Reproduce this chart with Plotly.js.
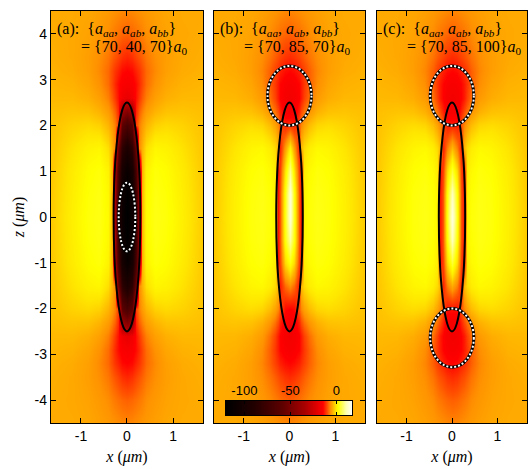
<!DOCTYPE html>
<html>
<head>
<meta charset="utf-8">
<script src="https://cdn.plot.ly/plotly-3.0.1.min.js"></script>
<style>html,body{margin:0;padding:0;background:#fff;}#plot{width:529px;height:469px;}</style>
</head>
<body>
<div id="plot"></div>
<script>
// x >= 0 half of the grid (field is mirror-symmetric in x)
const xHalf = [0, 0.1, 0.2, 0.26, 0.32, 0.42, 0.6, 0.85, 1.2, 1.65];
// z rows, top to bottom
const zRows = [4.5, 4.0, 3.5, 3.2, 2.9, 2.6, 2.3, 2.0, 1.5, 1.0, 0.5, 0.0,
               -0.5, -1.0, -1.5, -2.0, -2.3, -2.6, -2.9, -3.2, -3.5, -4.0, -4.5];

const fieldA = [
  [-7.6, -7.4, -7.1, -6.9, -6.7, -6.3, -5.8, -5.3, -5.0, -5.0],
  [-9.4, -9.1, -8.6, -8.2, -7.8, -7.1, -6.3, -5.6, -5.1, -4.9],
  [-12.8, -12.2, -11.0, -10.2, -9.4, -8.3, -7.0, -5.9, -5.1, -4.7],
  [-15.0, -14.5, -13.0, -12.0, -10.7, -9.0, -7.3, -5.8, -4.9, -4.5],
  [-16.5, -16.0, -14.3, -12.7, -10.9, -8.8, -6.8, -5.3, -4.5, -4.2],
  [-20.0, -18.0, -14.0, -11.8, -9.8, -7.8, -5.8, -4.6, -4.0, -4.0],
  [-48, -40, -12.5, -9.5, -7.8, -6.0, -4.3, -3.3, -3.2, -3.6],
  [-70, -60, -11.0, -8.0, -6.2, -4.3, -2.4, -1.8, -2.3, -3.4],
  [-95, -84, -50, -7.5, -4.5, -1.5, 0.6, 0.2, -1.2, -3.2],
  [-112, -100, -68, -32, -4.5, 0.3, 1.9, 1.3, -0.5, -3.0],
  [-119, -108, -74, -35, -4.2, 0.8, 2.3, 1.7, -0.2, -2.9],
  [-120, -110, -76, -36, -4.0, 1.0, 2.4, 1.9, 0.0, -2.8],
  [-119, -108, -74, -35, -4.2, 0.8, 2.3, 1.7, -0.2, -2.9],
  [-112, -100, -68, -32, -4.5, 0.3, 1.9, 1.3, -0.5, -3.0],
  [-95, -84, -50, -7.5, -4.5, -1.5, 0.6, 0.2, -1.2, -3.2],
  [-70, -60, -11.0, -8.0, -6.2, -4.3, -2.4, -1.8, -2.3, -3.4],
  [-48, -40, -12.5, -9.5, -7.8, -6.0, -4.3, -3.3, -3.2, -3.6],
  [-20.0, -18.0, -14.0, -11.8, -9.8, -7.8, -5.8, -4.6, -4.0, -4.0],
  [-16.5, -16.0, -14.3, -12.7, -10.9, -8.8, -6.8, -5.3, -4.5, -4.2],
  [-15.0, -14.5, -13.0, -12.0, -10.7, -9.0, -7.3, -5.8, -4.9, -4.5],
  [-12.8, -12.2, -11.0, -10.2, -9.4, -8.3, -7.0, -5.9, -5.1, -4.7],
  [-9.4, -9.1, -8.6, -8.2, -7.8, -7.1, -6.3, -5.6, -5.1, -4.9],
  [-7.6, -7.4, -7.1, -6.9, -6.7, -6.3, -5.8, -5.3, -5.0, -5.0]
];

const fieldB = [
  [-7.6, -7.4, -7.1, -6.9, -6.7, -6.3, -5.8, -5.3, -5.0, -5.0],
  [-9.5, -9.2, -8.7, -8.3, -7.9, -7.2, -6.4, -5.6, -5.1, -4.9],
  [-12.5, -12.0, -11.0, -10.4, -9.6, -8.5, -7.1, -5.9, -5.1, -4.7],
  [-14.8, -14.3, -13.2, -12.3, -11.2, -9.5, -7.5, -5.9, -4.9, -4.5],
  [-16.5, -16.0, -14.8, -13.5, -11.8, -9.6, -7.1, -5.4, -4.5, -4.2],
  [-17.5, -17.0, -15.0, -13.5, -11.2, -8.8, -6.2, -4.8, -4.1, -4.0],
  [-17.0, -16.5, -13.0, -10.5, -8.5, -6.5, -4.5, -3.4, -3.2, -3.6],
  [-12.0, -13.0, -10.0, -7.5, -5.6, -3.8, -2.1, -1.6, -2.2, -3.4],
  [0.0, -6.0, -13.0, -4.0, -1.8, -0.3, 0.9, 0.5, -1.0, -3.2],
  [8.0, -1.0, -11.0, -14.0, -0.3, 1.0, 2.0, 1.5, -0.3, -3.0],
  [13.0, 2.0, -10.0, -14.0, 0.3, 1.6, 2.4, 1.9, 0.0, -2.9],
  [13.0, 2.5, -10.0, -14.0, 0.5, 1.8, 2.5, 2.0, 0.1, -2.8],
  [9.0, 2.0, -10.0, -14.0, 0.3, 1.6, 2.4, 1.9, 0.0, -2.9],
  [2.0, -2.0, -11.0, -14.0, -0.3, 1.0, 2.0, 1.5, -0.3, -3.0],
  [-7.0, -9.0, -13.5, -4.0, -1.8, -0.3, 0.9, 0.5, -1.0, -3.2],
  [-15.0, -14.5, -10.0, -7.5, -5.6, -3.8, -2.1, -1.6, -2.2, -3.4],
  [-17.5, -16.5, -13.0, -10.5, -8.5, -6.5, -4.5, -3.4, -3.2, -3.6],
  [-17.5, -17.0, -15.0, -13.5, -11.2, -8.8, -6.2, -4.8, -4.1, -4.0],
  [-16.5, -16.0, -14.8, -13.5, -11.8, -9.6, -7.1, -5.4, -4.5, -4.2],
  [-14.8, -14.3, -13.2, -12.3, -11.2, -9.5, -7.5, -5.9, -4.9, -4.5],
  [-12.5, -12.0, -11.0, -10.4, -9.6, -8.5, -7.1, -5.9, -5.1, -4.7],
  [-9.5, -9.2, -8.7, -8.3, -7.9, -7.2, -6.4, -5.6, -5.1, -4.9],
  [-7.6, -7.4, -7.1, -6.9, -6.7, -6.3, -5.8, -5.3, -5.0, -5.0]
];

const fieldC = [
  [-7.6, -7.4, -7.1, -6.9, -6.7, -6.3, -5.8, -5.3, -5.0, -5.0],
  [-9.5, -9.2, -8.7, -8.3, -7.9, -7.2, -6.4, -5.6, -5.1, -4.9],
  [-12.5, -12.0, -11.0, -10.4, -9.6, -8.5, -7.1, -5.9, -5.1, -4.7],
  [-14.8, -14.3, -13.2, -12.3, -11.2, -9.5, -7.5, -5.9, -4.9, -4.5],
  [-16.5, -16.0, -14.8, -13.5, -11.8, -9.6, -7.1, -5.4, -4.5, -4.2],
  [-17.5, -17.0, -15.0, -13.5, -11.2, -8.8, -6.2, -4.8, -4.1, -4.0],
  [-17.0, -16.5, -13.0, -10.5, -8.5, -6.5, -4.5, -3.4, -3.2, -3.6],
  [-13.0, -13.5, -10.0, -7.5, -5.6, -3.8, -2.1, -1.6, -2.2, -3.4],
  [-4.0, -8.0, -13.0, -4.0, -1.8, -0.3, 0.9, 0.5, -1.0, -3.2],
  [4.0, -2.0, -11.0, -14.0, -0.3, 1.0, 2.0, 1.5, -0.3, -3.0],
  [11.0, 1.5, -10.0, -14.0, 0.3, 1.6, 2.4, 1.9, 0.0, -2.9],
  [14.0, 2.5, -10.0, -14.0, 0.5, 1.8, 2.5, 2.0, 0.1, -2.8],
  [11.0, 1.5, -10.0, -14.0, 0.3, 1.6, 2.4, 1.9, 0.0, -2.9],
  [4.0, -2.0, -11.0, -14.0, -0.3, 1.0, 2.0, 1.5, -0.3, -3.0],
  [-5.0, -8.0, -13.0, -4.0, -1.8, -0.3, 0.9, 0.5, -1.0, -3.2],
  [-14.0, -14.0, -10.0, -7.5, -5.6, -3.8, -2.1, -1.6, -2.2, -3.4],
  [-17.0, -16.5, -13.0, -10.5, -8.5, -6.5, -4.5, -3.4, -3.2, -3.6],
  [-17.5, -17.0, -15.0, -13.5, -11.2, -8.8, -6.2, -4.8, -4.1, -4.0],
  [-16.5, -16.0, -14.8, -13.5, -11.8, -9.6, -7.1, -5.4, -4.5, -4.2],
  [-14.8, -14.3, -13.2, -12.3, -11.2, -9.5, -7.5, -5.9, -4.9, -4.5],
  [-12.5, -12.0, -11.0, -10.4, -9.6, -8.5, -7.1, -5.9, -5.1, -4.7],
  [-9.5, -9.2, -8.7, -8.3, -7.9, -7.2, -6.4, -5.6, -5.1, -4.9],
  [-7.6, -7.4, -7.1, -6.9, -6.7, -6.3, -5.8, -5.3, -5.0, -5.0]
];

// colour bar range and ticks
const cbarRange = [-120, 17];
const cbarTicks = [-100, -50, 0];
const cbarTickText = ['-100', '-50', '0'];

// palette stops: value -> colour
const paletteValues = [-120, -90, -60, -35, -15, -10, -7, -5, -3, -1, 1.5, 10, 17];
const paletteColors = ['#000000', '#220000', '#5c0000', '#a80000', '#ff0000', '#ff5500',
                       '#ff9000', '#ffaa00', '#ffc800', '#ffe600', '#ffff00', '#ffffb0', '#ffffff'];

// ellipses: [xCenter, zCenter, halfWidth, halfHeight]
const rodEllipse = [0, 0, 0.29, 2.5];
const dottedA = [[0, 0, 0.18, 0.75]];
const dottedB = [[0, 2.65, 0.48, 0.65]];
const dottedC = [[0, 2.65, 0.48, 0.65], [0, -2.64, 0.48, 0.64]];

const panelLabels = ['(a)', '(b)', '(c)'];
const panelParams = ['70, 40, 70', '70, 85, 70', '70, 85, 100'];

const xTicks = [-1, 0, 1];
const xTickText = ['-1', '0', '1'];
const zTicks = [-4, -3, -2, -1, 0, 1, 2, 3, 4];
const zTickText = ['-4', '-3', '-2', '-1', '0', '1', '2', '3', '4'];

// ---- build ----
const cmin = cbarRange[0], cmax = cbarRange[1];
const colorscale = paletteValues.map((v, i) => [(v - cmin) / (cmax - cmin), paletteColors[i]]);
const xFull = xHalf.slice(1).map(v => -v).reverse().concat(xHalf);
const yAsc = zRows.slice().reverse();
function fullGrid(f) {
  return f.slice().reverse().map(r => r.slice(1).reverse().concat(r));
}
const fields = [fieldA, fieldB, fieldC];
const axSuffix = ['', '2', '3'];
const traces = fields.map((f, i) => ({
  type: 'heatmap', x: xFull, y: yAsc, z: fullGrid(f),
  xaxis: 'x' + axSuffix[i], yaxis: 'y' + axSuffix[i],
  zsmooth: 'best', colorscale: colorscale, zmin: cmin, zmax: cmax,
  showscale: false, hoverinfo: 'skip'
}));
traces.push({
  type: 'heatmap', x: cbarRange, y: [0, 1], z: [cbarRange, cbarRange],
  xaxis: 'x4', yaxis: 'y4', zsmooth: 'best', colorscale: colorscale,
  zmin: cmin, zmax: cmax, showscale: false, hoverinfo: 'skip'
});

const serif = 'Liberation Serif, DejaVu Serif, serif';
const sans = 'Liberation Sans, Arial, sans-serif';
const xDomains = [[0, 0.3193], [0.3424, 0.6597], [0.6849, 1]];

const layout = {
  width: 529, height: 469,
  margin: {l: 51, r: 2, t: 11, b: 46},
  paper_bgcolor: '#ffffff', plot_bgcolor: '#ffffff',
  showlegend: false,
  shapes: [], annotations: []
};

function xAxis(i) {
  return {
    domain: xDomains[i], range: [-1.65, 1.65], anchor: 'y' + axSuffix[i],
    tickvals: xTicks, ticktext: xTickText, ticks: 'inside', ticklen: 5, tickwidth: 1, tickcolor: '#000',
    showline: true, linecolor: '#000', linewidth: 1.2, mirror: 'ticks',
    showgrid: false, zeroline: false,
    tickfont: {family: sans, size: 14, color: '#000'},
    title: {text: '<i>x</i> (<i>μm</i>)', font: {family: serif, size: 16, color: '#000'}, standoff: 7}
  };
}
function yAxis(i) {
  const ax = {
    domain: [0, 1], range: [-4.5, 4.5], anchor: 'x' + axSuffix[i],
    tickvals: zTicks, ticktext: zTickText, ticks: 'inside', ticklen: 5, tickwidth: 1, tickcolor: '#000',
    showline: true, linecolor: '#000', linewidth: 1.2, mirror: 'ticks',
    showgrid: false, zeroline: false, showticklabels: i === 0,
    tickfont: {family: sans, size: 14, color: '#000'}
  };
  if (i === 0) ax.title = {text: '<i>z</i> (<i>μm</i>)', font: {family: serif, size: 16, color: '#000'}, standoff: 6};
  return ax;
}
for (let i = 0; i < 3; i++) {
  layout['xaxis' + (i ? i + 1 : '')] = xAxis(i);
  layout['yaxis' + (i ? i + 1 : '')] = yAxis(i);
}
layout.xaxis4 = {
  domain: [0.3676, 0.6324], range: cbarRange, anchor: 'y4', side: 'top',
  tickvals: cbarTicks, ticktext: cbarTickText, ticks: 'inside', ticklen: 3, tickcolor: '#000',
  showline: true, linecolor: '#000', linewidth: 1, mirror: 'ticks',
  showgrid: false, zeroline: false,
  tickfont: {family: sans, size: 13, color: '#000'}
};
layout.yaxis4 = {
  domain: [0.0194, 0.0534], range: [0, 1], anchor: 'x4',
  showticklabels: false, ticks: '', showline: true, linecolor: '#000', linewidth: 1,
  mirror: true, showgrid: false, zeroline: false
};

function ellipseShape(i, e, line) {
  return {
    type: 'circle', xref: 'x' + axSuffix[i], yref: 'y' + axSuffix[i],
    x0: e[0] - e[2], x1: e[0] + e[2], y0: e[1] - e[3], y1: e[1] + e[3],
    line: line, fillcolor: 'rgba(0,0,0,0)', layer: 'above'
  };
}
const dotted = [dottedA, dottedB, dottedC];
for (let i = 0; i < 3; i++) {
  layout.shapes.push(ellipseShape(i, rodEllipse, {color: '#000', width: 2}));
  dotted[i].forEach(e => {
    layout.shapes.push(ellipseShape(i, e, {color: '#000', width: 3}));
    layout.shapes.push(ellipseShape(i, e, {color: '#fff', width: 2, dash: '2px,2px'}));
  });
  const xr = 'x' + axSuffix[i] + ' domain', yr = 'y' + axSuffix[i] + ' domain';
  layout.annotations.push({
    xref: xr, yref: yr, x: 0.026, y: 0.956, xanchor: 'left', yanchor: 'middle', align: 'left', showarrow: false,
    text: panelLabels[i] + ':&nbsp;&nbsp;{<i>a</i><sub><i>aa</i></sub>, <i>a</i><sub><i>ab</i></sub>, <i>a</i><sub><i>bb</i></sub>}',
    font: {family: serif, size: 16, color: '#000'}
  });
  layout.annotations.push({
    xref: xr, yref: yr, x: 0.184, y: 0.912, xanchor: 'left', yanchor: 'middle', align: 'left', showarrow: false,
    text: '= {' + panelParams[i] + '}<i>a</i><sub>0</sub>',
    font: {family: serif, size: 16, color: '#000'}
  });
}

Plotly.newPlot('plot', traces, layout, {staticPlot: true, displayModeBar: false});
</script>
</body>
</html>
